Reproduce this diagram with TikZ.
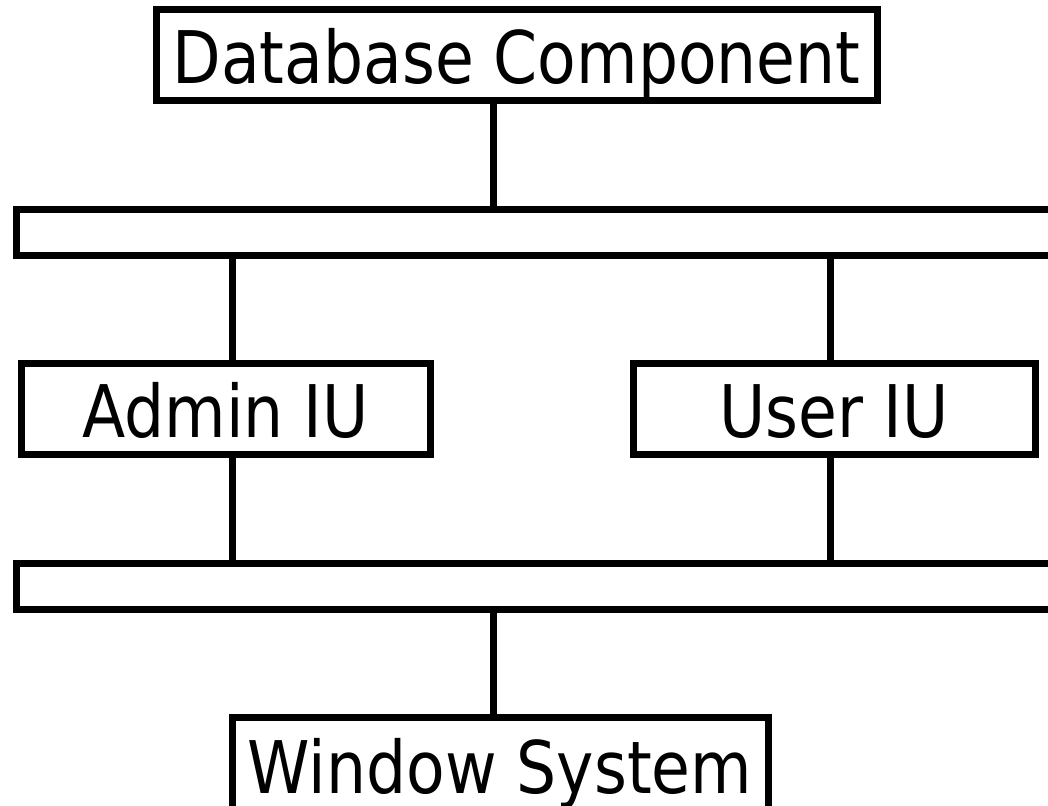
\documentclass[tikz,border=0pt]{standalone}
\usepackage{fontspec}
\setmainfont{DejaVu Sans}[FakeStretch=0.87]
\usepackage{tikz}
\usetikzlibrary{positioning}

\tikzset{
    layer/.style = {draw, line width=0.14cm, inner sep=0pt, minimum height=1.82cm,
        text height=1.14cm, text depth=0pt,
        font=\fontsize{41.3}{48}\selectfont},
    bus/.style = {draw, line width=0.14cm, inner sep=0pt},
    link/.style = {line width=0.14cm}
}

\begin{document}
\begin{tikzpicture}
    \useasboundingbox (0 , 0) rectangle (20.96 , -16.12);
    \clip (0 , 0) rectangle (20.96 , -16.12);
    % components
    \node[layer, minimum width=14.42cm] (db) at (10.33 , -1.11) {Database Component};
    \node[layer, minimum width=8.18cm] (admin) at (4.51 , -8.19) {Admin IU};
    \node[layer, minimum width=8.04cm] (user) at (16.68 , -8.19) {User IU};
    \node[layer, minimum width=10.72cm, minimum height=1.9cm] (wsys) at (10.0 , -15.29) {Window System};
    % buses
    \node[bus, minimum width=23.66cm, minimum height=0.92cm] (busA) at (12.17 , -4.66) {};
    \node[bus, minimum width=23.66cm, minimum height=0.90cm] (busB) at (12.17 , -11.73) {};
    % tap points
    \coordinate (midtap) at (9.86 , 0);
    \coordinate (admintap) at (4.64 , 0);
    \coordinate (usertap) at (16.60 , 0);
    % connectors
    \draw[link] (midtap |- db.south) -- (midtap |- busA.north);
    \draw[link] (admintap |- busA.south) -- (admintap |- admin.north);
    \draw[link] (usertap |- busA.south) -- (usertap |- user.north);
    \draw[link] (admintap |- admin.south) -- (admintap |- busB.north);
    \draw[link] (usertap |- user.south) -- (usertap |- busB.north);
    \draw[link] (midtap |- busB.south) -- (midtap |- wsys.north);
\end{tikzpicture}
\end{document}
